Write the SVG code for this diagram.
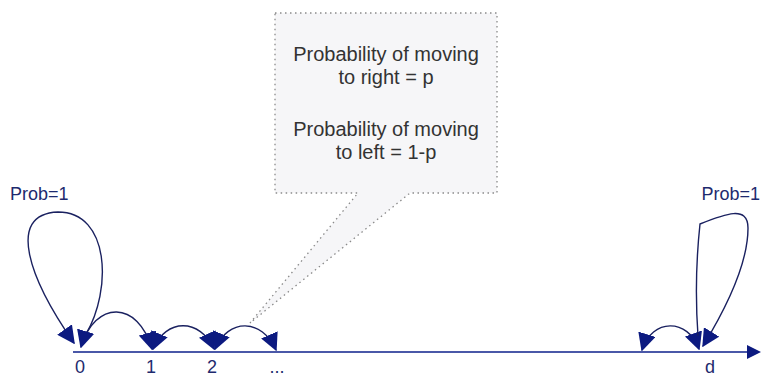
<svg xmlns="http://www.w3.org/2000/svg" width="761" height="377" viewBox="0 0 761 377">
<defs>
<style>
.lbl{font-family:"Liberation Sans",Arial,sans-serif;font-size:18px;fill:#1e2a6e}
.call{font-family:"Liberation Sans",Arial,sans-serif;font-size:20px;fill:#333333;text-anchor:middle}
.arc{fill:none;stroke:#1a2160;stroke-width:1.4}
.num{text-anchor:middle}
</style>
<marker id="ah" viewBox="0 0 12 12" refX="11" refY="6" markerWidth="18" markerHeight="18" markerUnits="userSpaceOnUse" orient="auto-start-reverse">
<path d="M0,0 L12,6 L0,12 z" fill="#0c1a80"/>
</marker>
</defs>
<rect width="761" height="377" fill="#ffffff"/>

<g id="callout">
<path d="M275,13 L497,13 L497,193 L410,193 L250,323 L358,193 L275,193 Z" fill="#f6f6f8" stroke="#8a8a8a" stroke-width="1.3" stroke-dasharray="1.5 3.5"/>
<text class="call" x="386" y="61">Probability of moving</text>
<text class="call" x="386" y="84">to right = p</text>
<text class="call" x="386" y="136">Probability of moving</text>
<text class="call" x="386" y="159">to left = 1-p</text>
</g>

<g id="axis">
<line x1="73" y1="352" x2="750" y2="352" stroke="#4a58a8" stroke-width="2"/>
<polygon points="761,352 747,345 747,359" fill="#0c1a80"/>
</g>

<g id="connectors">
<path class="arc" d="M86,334 C112,290 110,212 58,212 C5,214 30,280 74,343" marker-end="url(#ah)"/>
<path class="arc" d="M81,347 C95,300 138,300 152,349" marker-start="url(#ah)" marker-end="url(#ah)"/>
<path class="arc" d="M153,349 C166,318 200,318 214,349" marker-start="url(#ah)" marker-end="url(#ah)"/>
<path class="arc" d="M215,349 C228,318 262,318 276,350" marker-start="url(#ah)" marker-end="url(#ah)"/>
<path class="arc" d="M642,350 C652,318 688,318 699,349" marker-start="url(#ah)" marker-end="url(#ah)"/>
<path class="arc" d="M698,336 Q694,280 700,224 C725,214 748,205 748,228 C748,265 725,310 703,346" marker-end="url(#ah)"/>
</g>

<g id="node-0"><text class="lbl num" x="80" y="373">0</text></g>
<g id="node-1"><text class="lbl num" x="151" y="373">1</text></g>
<g id="node-2"><text class="lbl num" x="212" y="373">2</text></g>
<g id="node-dots"><text class="lbl num" x="277" y="373">...</text></g>
<g id="node-d"><text class="lbl num" x="710" y="373">d</text></g>
<g id="label-left"><text class="lbl" x="10" y="200">Prob=1</text></g>
<g id="label-right"><text class="lbl" x="760" y="200" text-anchor="end">Prob=1</text></g>
</svg>
